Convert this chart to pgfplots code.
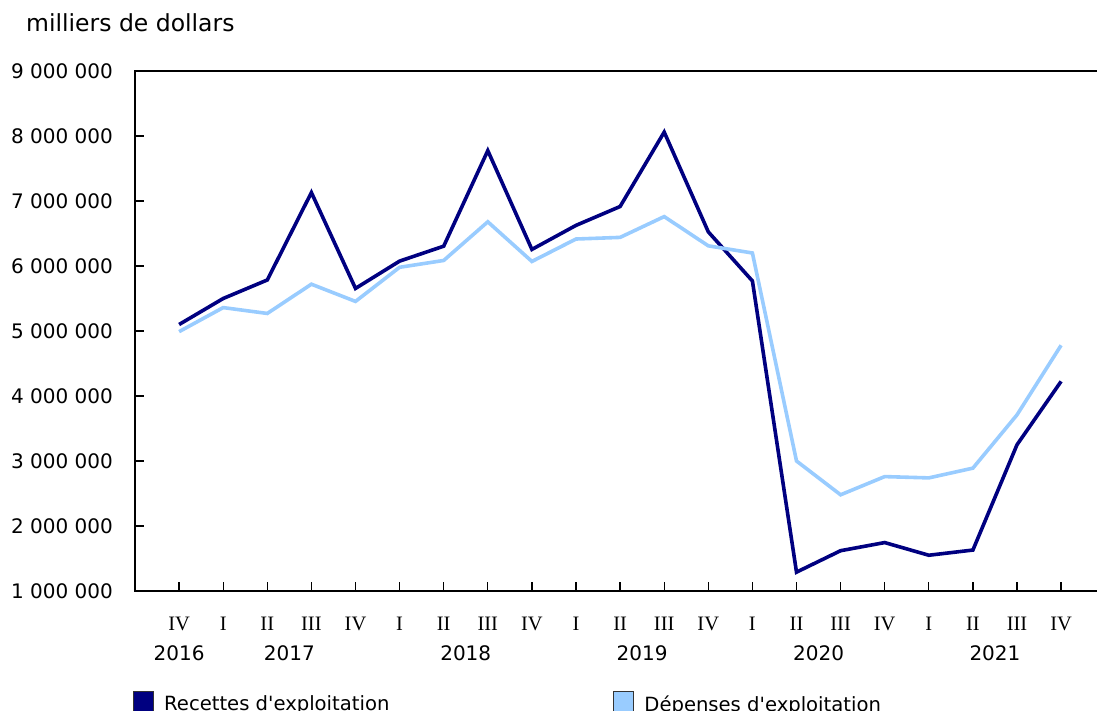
\documentclass[border=0pt]{standalone}
\usepackage{pgfplots}
\pgfplotsset{compat=1.18}
\usepackage{fontspec}
\setmainfont{DejaVu Sans}
\newfontfamily\romanfont{Liberation Serif}
\definecolor{navyc}{RGB}{0,0,128}
\definecolor{lightc}{RGB}{153,204,255}
\begin{document}
\begin{tikzpicture}
\useasboundingbox (0,0) rectangle (1097pt,711pt);
\node[anchor=base west, inner sep=0pt, font=\fontsize{23.5}{28}\selectfont] at (26pt,679pt) {milliers de dollars};
\begin{axis}[
  at={(135pt,120pt)}, anchor=south west,
  scale only axis, width=970.2pt, height=520pt,
  xmin=-1, xmax=21, ymin=1000000, ymax=9000000,
  scaled y ticks=false,
  xtick={0,1,2,3,4,5,6,7,8,9,10,11,12,13,14,15,16,17,18,19,20},
  xticklabels={IV,I,II,III,IV,I,II,III,IV,I,II,III,IV,I,II,III,IV,I,II,III,IV},
  ytick={1000000,2000000,3000000,4000000,5000000,6000000,7000000,8000000,9000000},
  yticklabels={1 000 000,2 000 000,3 000 000,4 000 000,5 000 000,6 000 000,7 000 000,8 000 000,9 000 000},
  xtick pos=left, ytick pos=left,
  tick align=inside, major tick length=9pt,
  axis line style={line width=1.6pt, black},
  tick style={line width=1.3pt, black},
  xticklabel style={font=\romanfont\fontsize{20.5}{24}\selectfont, anchor=base, inner sep=0pt, yshift=-40pt},
  yticklabel style={font=\fontsize{20}{24}\selectfont, anchor=east, inner sep=0pt, xshift=-22pt},
  extra x ticks={0,2.5,6.5,10.5,14.5,18.5},
  extra x tick labels={2016,2017,2018,2019,2020,2021},
  extra x tick style={major tick length=0pt, xticklabel style={font=\fontsize{20}{24}\selectfont, yshift=-30pt}},
  legend columns=2,
  legend style={at={(0,0)}, anchor=north west, xshift=-2pt, yshift=-100pt, draw=none, fill=none, inner sep=0pt,
    font=\fontsize{19.6}{23}\selectfont,
    /tikz/every odd column/.append style={column sep=8pt},
    /tikz/every even column/.append style={column sep=222pt}},
  legend cell align=left,
]
\addplot[navyc, line width=3.6pt, legend image code/.code={\draw[fill=navyc, draw=black!80, line width=1pt] (0pt,-7.7pt) rectangle (20pt,12.3pt);}] coordinates {
(0,5100000)(1,5500000)(2,5785000)(3,7130000)(4,5655000)(5,6075000)(6,6305000)(7,7775000)(8,6255000)(9,6625000)(10,6915000)(11,8060000)(12,6525000)(13,5770000)(14,1290000)(15,1620000)(16,1745000)(17,1550000)(18,1630000)(19,3250000)(20,4225000)};
\addlegendentry{Recettes d\textquotesingle exploitation}
\addplot[lightc, line width=3.6pt, legend image code/.code={\draw[fill=lightc, draw=black!80, line width=1pt] (0pt,-7.7pt) rectangle (20pt,12.3pt);}] coordinates {
(0,4990000)(1,5360000)(2,5270000)(3,5720000)(4,5455000)(5,5980000)(6,6085000)(7,6680000)(8,6070000)(9,6415000)(10,6440000)(11,6760000)(12,6310000)(13,6200000)(14,3000000)(15,2480000)(16,2760000)(17,2740000)(18,2890000)(19,3710000)(20,4780000)};
\addlegendentry{Dépenses d\textquotesingle exploitation}
\end{axis}
\end{tikzpicture}
\end{document}
